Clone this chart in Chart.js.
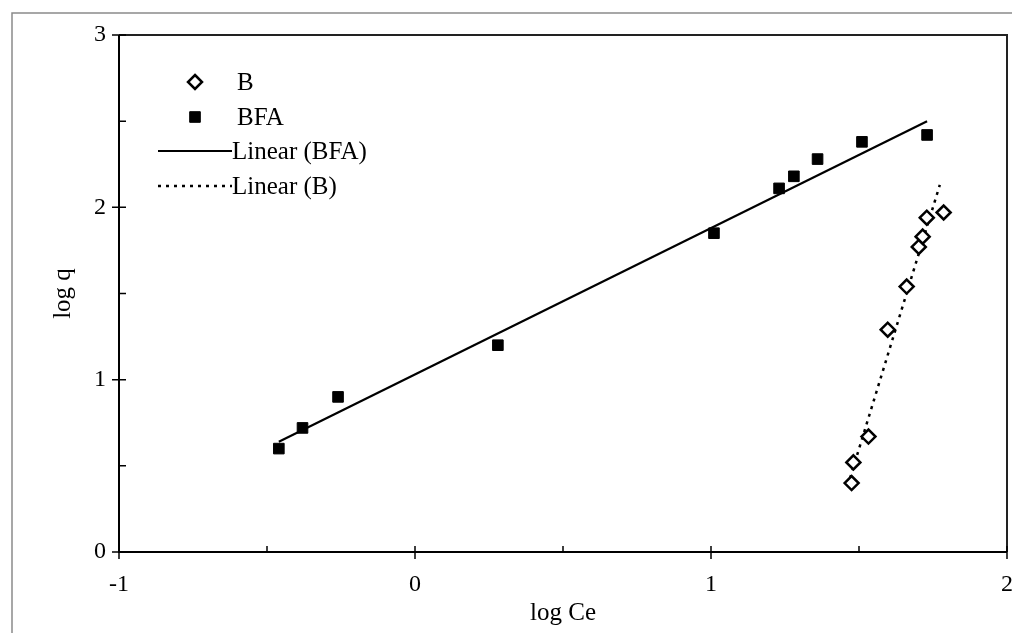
<!DOCTYPE html>
<html><head><meta charset="utf-8">
<script src="https://cdn.jsdelivr.net/npm/chart.js@4/dist/chart.umd.min.js"></script>
<style>html,body{margin:0;padding:0;background:#fff}</style>
</head><body>
<canvas id="c" width="1012" height="633"></canvas>
<script>
// ---- data ----
const bLogCe   = [1.475, 1.481, 1.532, 1.597, 1.661, 1.702, 1.715, 1.729, 1.786];
const bLogQ    = [0.40, 0.52, 0.67, 1.29, 1.54, 1.77, 1.83, 1.94, 1.97];
const bfaLogCe = [-0.46, -0.38, -0.26, 0.28, 1.01, 1.23, 1.28, 1.36, 1.51, 1.73];
const bfaLogQ  = [0.60, 0.72, 0.90, 1.20, 1.85, 2.11, 2.18, 2.28, 2.38, 2.42];
const bfaTrendX = [-0.46, 1.73];
const bfaTrendY = [0.64, 2.50];
const bTrendX = [1.47, 1.773];
const bTrendY = [0.43, 2.13];
const xTickValues = [-1, 0, 1, 2];
const yTickValues = [0, 1, 2, 3];
const seriesLabels = ['B', 'BFA', 'Linear (BFA)', 'Linear (B)'];

const toPts = (xs, ys) => xs.map((x, i) => ({x: x, y: ys[i]}));
const FONT = 'Liberation Serif, Times New Roman, serif';

const framePlugin = {
  id: 'frame',
  beforeDraw(chart) {
    const ctx = chart.ctx;
    ctx.save();
    ctx.fillStyle = '#fff';
    ctx.fillRect(0, 0, chart.width, chart.height);
    ctx.strokeStyle = '#8a8a8a';
    ctx.lineWidth = 1.5;
    ctx.beginPath();
    ctx.moveTo(12, chart.height);
    ctx.lineTo(12, 13);
    ctx.lineTo(chart.width, 13);
    ctx.stroke();
    ctx.restore();
  },
  afterDatasetsDraw(chart) {
    const ctx = chart.ctx;
    const a = chart.chartArea;
    const xs = chart.scales.x, ys = chart.scales.y;
    ctx.save();
    ctx.strokeStyle = '#222';
    ctx.lineWidth = 2;
    ctx.beginPath();
    ctx.moveTo(a.left, a.top);
    ctx.lineTo(a.right, a.top);
    ctx.lineTo(a.right, a.bottom);
    ctx.stroke();
    ctx.strokeStyle = '#000';
    ctx.lineWidth = 2;
    ctx.beginPath();
    ctx.moveTo(a.left, a.top);
    ctx.lineTo(a.left, a.bottom);
    ctx.lineTo(a.right, a.bottom);
    ctx.stroke();
    ctx.lineWidth = 1.5;
    ctx.beginPath();
    for (let v = xs.min; v <= xs.max + 1e-9; v += 0.5) {
      const px = xs.getPixelForValue(v);
      const major = Math.abs(v - Math.round(v)) < 1e-9;
      ctx.moveTo(px, a.bottom - 6);
      ctx.lineTo(px, a.bottom + (major ? 7 : 0));
    }
    for (let v = ys.min; v <= ys.max + 1e-9; v += 0.5) {
      const py = ys.getPixelForValue(v);
      const major = Math.abs(v - Math.round(v)) < 1e-9;
      ctx.moveTo(a.left - (major ? 7 : 0), py);
      ctx.lineTo(a.left + 7, py);
    }
    ctx.stroke();
    ctx.restore();
  },
  afterDraw(chart) {
    const ctx = chart.ctx;
    const ds = chart.data.datasets;
    const mx = 195, tx = 237, rows = [82, 117, 151, 186];
    ctx.save();
    ctx.font = '25px ' + FONT;
    ctx.fillStyle = '#000';
    ctx.textBaseline = 'middle';
    ctx.textAlign = 'left';
    ds.forEach((d, i) => {
      const y = rows[i];
      ctx.strokeStyle = '#000';
      if (d.type === 'line') {
        ctx.lineWidth = d.borderWidth;
        ctx.setLineDash(d.borderDash || []);
        ctx.beginPath();
        ctx.moveTo(158, y);
        ctx.lineTo(232, y);
        ctx.stroke();
        ctx.setLineDash([]);
        ctx.fillText(d.label, 232, y + 1);
      } else {
        const r = d.pointRadius;
        ctx.lineWidth = d.pointBorderWidth;
        ctx.fillStyle = d.pointBackgroundColor;
        ctx.beginPath();
        if (d.pointStyle === 'rectRot') {
          ctx.moveTo(mx, y - r); ctx.lineTo(mx + r, y); ctx.lineTo(mx, y + r); ctx.lineTo(mx - r, y); ctx.closePath();
        } else {
          const s = r * Math.SQRT1_2;
          ctx.rect(mx - s, y - s, 2 * s, 2 * s);
        }
        ctx.fill();
        ctx.stroke();
        ctx.fillStyle = '#000';
        ctx.fillText(d.label, tx, y + 1);
      }
    });
    ctx.restore();
  }
};

new Chart(document.getElementById('c'), {
  type: 'scatter',
  data: {
    datasets: [
      {label: seriesLabels[0], data: toPts(bLogCe, bLogQ), pointStyle: 'rectRot', pointRadius: 7,
       pointBorderWidth: 2.5, pointBackgroundColor: '#fff', pointBorderColor: '#000', order: 1},
      {label: seriesLabels[1], data: toPts(bfaLogCe, bfaLogQ), pointStyle: 'rect', pointRadius: 7.5,
       pointBorderWidth: 1, pointBackgroundColor: '#000', pointBorderColor: '#000', order: 1},
      {type: 'line', label: seriesLabels[2], data: toPts(bfaTrendX, bfaTrendY), borderColor: '#000',
       borderWidth: 2.2, pointRadius: 0, fill: false, order: 2},
      {type: 'line', label: seriesLabels[3], data: toPts(bTrendX, bTrendY), borderColor: '#000',
       borderWidth: 2.5, borderDash: [3, 5], pointRadius: 0, fill: false, order: 2}
    ]
  },
  options: {
    responsive: false,
    animation: false,
    devicePixelRatio: 1,
    layout: {autoPadding: false, padding: {top: 35, right: 5, left: 0, bottom: 0}},
    plugins: {legend: {display: false}, tooltip: {enabled: false}},
    scales: {
      x: {
        type: 'linear', min: -1, max: 2,
        afterBuildTicks: s => { s.ticks = xTickValues.map(v => ({value: v})); },
        afterFit: s => { s.height = 81; s.paddingRight = 0; s.paddingLeft = 0; },
        grid: {display: false, drawTicks: false},
        border: {display: false},
        ticks: {color: '#000', font: {family: FONT, size: 24}, padding: 18, maxRotation: 0},
        title: {display: true, text: 'log Ce', color: '#000', font: {family: FONT, size: 25}, padding: {bottom: 5}}
      },
      y: {
        type: 'linear', min: 0, max: 3,
        afterBuildTicks: s => { s.ticks = yTickValues.map(v => ({value: v})); },
        afterFit: s => { s.width = 119; s.paddingTop = 0; s.paddingBottom = 0; },
        grid: {display: false, drawTicks: false},
        border: {display: false},
        ticks: {color: '#000', font: {family: FONT, size: 24}, padding: 13},
        title: {display: true, text: 'log q', color: '#000', font: {family: FONT, size: 25}, padding: {top: 48}}
      }
    }
  },
  plugins: [framePlugin]
});
</script>
</body></html>
